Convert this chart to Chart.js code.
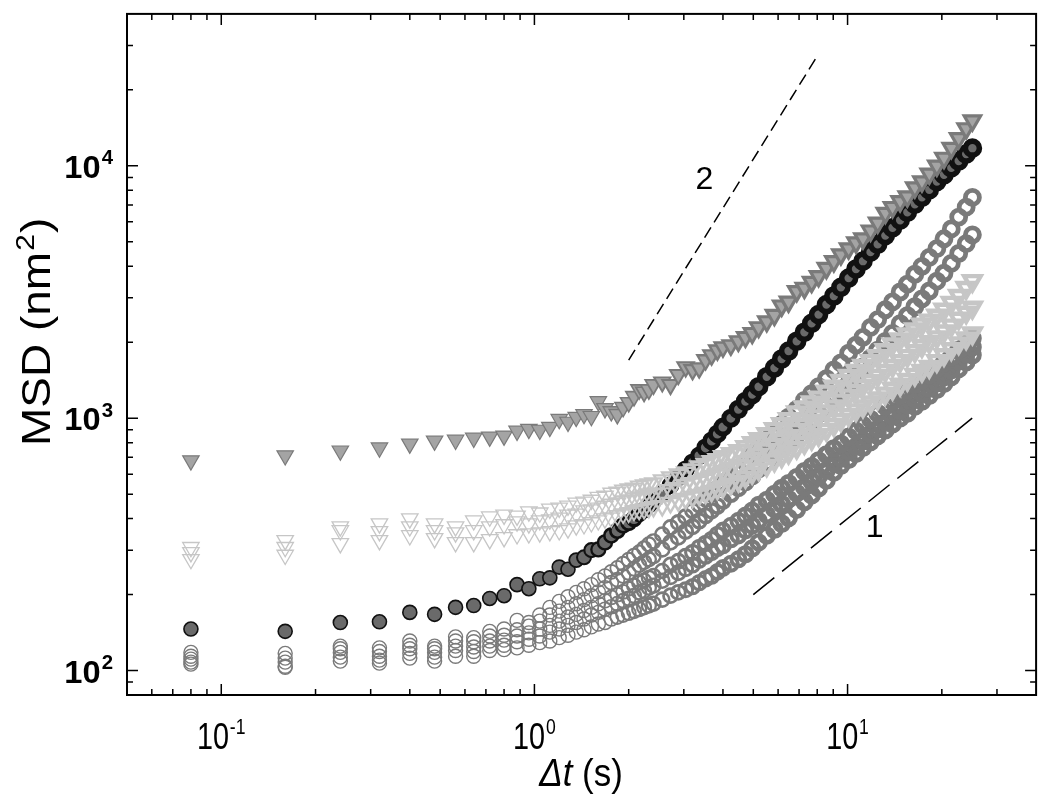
<!DOCTYPE html>
<html>
<head>
<meta charset="utf-8">
<script src="https://cdn.jsdelivr.net/npm/chart.js@4.4.0/dist/chart.umd.min.js"></script>
<style>
html, body { margin: 0; padding: 0; background: #fff; }
#wrap { width: 1050px; height: 797px; }
</style>
</head>
<body>
<div id="wrap"><canvas id="msdChart" width="1050" height="797"></canvas></div>
<script>
// time lags (s)
const LAGS = [0.08, 0.16, 0.24, 0.32, 0.40, 0.48, 0.56, 0.64, 0.72, 0.80,
    0.88, 0.96, 1.04, 1.12, 1.20, 1.28, 1.36, 1.44, 1.52, 1.60,
    1.68, 1.76, 1.84, 1.92, 2.00, 2.08, 2.16, 2.24, 2.32, 2.40,
    2.56, 2.72, 2.88, 3.04, 3.20, 3.36, 3.52, 3.68, 3.84, 4.00,
    4.24, 4.48, 4.72, 4.96, 5.20, 5.52, 5.84, 6.16, 6.48, 6.88,
    7.28, 7.68, 8.08, 8.56, 9.04, 9.52, 10.08, 10.64, 11.2, 11.84,
    12.48, 13.2, 13.92, 14.72, 15.52, 16.4, 17.28, 18.24, 19.28, 20.32,
    21.44, 22.64, 23.92, 25.04];

// MSD (nm^2), one array per trajectory
const TRI_GRAY = [679, 711, 743, 764, 791, 813, 820, 835, 843, 851,
    890, 905, 898, 922, 991, 966, 1010, 1036, 1018, 1165,
    1094, 1063, 1036, 1105, 1155, 1220, 1298, 1270, 1298, 1358,
    1390, 1358, 1486, 1595, 1554, 1580, 1701, 1778, 1860, 1912,
    1946, 2018, 2093, 2170, 2290, 2415, 2560, 2790, 2890, 3180,
    3280, 3460, 3650, 3930, 4180, 4450, 4700, 4960, 5150, 5530,
    5940, 6500, 6853, 7230, 7550, 8200, 8660, 9300, 10000, 10740,
    11750, 12850, 14060, 15100];

const CIRC_DARK = [146, 143, 155, 156, 170, 167, 178, 181, 193, 198,
    219, 211, 231, 233, 257, 252, 274, 281, 300, 302,
    322, 343, 358, 376, 385, 400, 418, 433, 453, 470,
    505, 542, 583, 626, 667, 710, 764, 813, 866, 922,
    1000, 1084, 1165, 1241, 1333, 1460, 1580, 1716, 1845, 2018,
    2190, 2375, 2573, 2820, 3050, 3300, 3590, 3900, 4190, 4550,
    4890, 5290, 5680, 6090, 6550, 7040, 7500, 8040, 8660, 9220,
    9815, 10450, 11130, 11750];

const TRI_LIGHT_1 = [308, 328, 372, 382, 400, 382, 372, 393, 407, 414,
    410, 426, 422, 437, 441, 449, 462, 466, 474, 487,
    492, 505, 510, 519, 524, 528, 538, 543, 548, 553,
    568, 583, 599, 610, 627, 644, 656, 674, 686, 705,
    724, 744, 771, 799, 829, 867, 907, 948, 992, 1057,
    1105, 1156, 1209, 1277, 1335, 1409, 1474, 1542, 1613, 1687,
    1765, 1863, 1966, 2057, 2152, 2251, 2354, 2441, 2553, 2695,
    2871, 3057, 3286, 3499];

const TRI_LIGHT_2 = [294, 308, 359, 356, 372, 359, 352, 359, 372, 379,
    389, 382, 393, 396, 403, 414, 418, 430, 434, 441,
    449, 457, 462, 470, 474, 483, 487, 492, 496, 501,
    505, 519, 528, 543, 553, 563, 573, 589, 599, 616,
    633, 650, 674, 692, 718, 751, 785, 821, 851, 899,
    940, 975, 1019, 1066, 1115, 1177, 1231, 1288, 1347, 1409,
    1474, 1542, 1613, 1687, 1765, 1846, 1931, 2003, 2095, 2211,
    2333, 2485, 2624, 2744];

const TRI_LIGHT_3 = [276, 287, 319, 328, 343, 334, 322, 322, 331, 337,
    346, 349, 352, 356, 359, 365, 375, 379, 386, 393,
    400, 403, 411, 418, 422, 430, 434, 437, 441, 445,
    449, 462, 470, 479, 487, 496, 505, 514, 524, 533,
    548, 563, 583, 605, 627, 650, 680, 705, 731, 764,
    799, 829, 859, 899, 940, 983, 1029, 1076, 1115, 1156,
    1199, 1254, 1311, 1360, 1422, 1488, 1542, 1598, 1687, 1781,
    1880, 1984, 2075, 2171];

const CIRC_OPEN_1 = [118, 117, 125, 123, 131, 125, 136, 135, 143, 146,
    158, 155, 166, 178, 188, 196, 204, 211, 219, 229,
    237, 246, 255, 265, 275, 285, 294, 305, 316, 325,
    346, 369, 386, 407, 430, 453, 479, 501, 528, 558,
    595, 627, 667, 711, 764, 821, 882, 948, 1009, 1084,
    1176, 1252, 1334, 1433, 1554, 1655, 1810, 1946, 2091, 2288,
    2458, 2690, 2890, 3162, 3398, 3718, 3996, 4334, 4698, 5140,
    5623, 6266, 6855, 7499];

const CIRC_OPEN_2 = [114, 112, 122, 119, 126, 122, 131, 130, 137, 138,
    145, 150, 157, 166, 172, 178, 184, 191, 198, 205,
    213, 223, 229, 237, 244, 253, 262, 269, 276, 284,
    302, 322, 337, 356, 372, 392, 411, 430, 449, 470,
    500, 528, 557, 588, 627, 667, 711, 757, 799, 859,
    914, 973, 1037, 1114, 1187, 1264, 1370, 1472, 1596, 1731,
    1861, 2017, 2168, 2371, 2548, 2764, 2970, 3191, 3491, 3752,
    4106, 4493, 4914, 5330];

const CIRC_OPEN_3 = [111, 108, 118, 114, 122, 118, 125, 124, 131, 132,
    137, 141, 146, 151, 157, 163, 167, 173, 178, 184,
    189, 195, 200, 205, 211, 217, 223, 227, 233, 237,
    248, 262, 271, 284, 294, 308, 319, 331, 346, 359,
    375, 392, 411, 430, 453, 474, 500, 528, 552, 583,
    615, 644, 679, 717, 757, 791, 843, 890, 939, 991,
    1046, 1114, 1166, 1230, 1287, 1358, 1420, 1486, 1568, 1655,
    1747, 1861, 1963, 2072];

const CIRC_OPEN_4 = [108, 104, 113, 110, 117, 113, 120, 119, 125, 126,
    130, 133, 137, 142, 146, 151, 155, 160, 166, 170,
    175, 179, 184, 189, 193, 198, 204, 207, 213, 217,
    227, 235, 244, 253, 262, 274, 284, 294, 305, 313,
    331, 343, 359, 375, 392, 414, 437, 457, 478, 505,
    533, 562, 588, 621, 662, 692, 737, 771, 813, 867,
    907, 965, 1018, 1075, 1124, 1187, 1252, 1310, 1382, 1459,
    1554, 1685, 1795, 1911];

const CIRC_OPEN_5 = [106, 103, 109, 107, 112, 109, 114, 114, 120, 121,
    123, 126, 129, 131, 135, 138, 142, 145, 149, 153,
    155, 160, 163, 166, 169, 172, 175, 178, 181, 184,
    191, 198, 204, 209, 215, 223, 231, 237, 246, 255,
    265, 276, 289, 305, 322, 343, 362, 382, 403, 434,
    466, 496, 528, 567, 610, 649, 686, 724, 764, 806,
    851, 898, 948, 1000, 1046, 1114, 1166, 1230, 1298, 1370,
    1459, 1568, 1670, 1778];

// guide lines for slope 2 and slope 1
const SLOPE2_T = [2, 8];
const SLOPE2_MSD = [1700, 27200];
const SLOPE1_T = [5, 25];
const SLOPE1_MSD = [200, 1000];
const SLOPE_LABELS = ['2', '1'];
const SLOPE_LABEL_T = [3.49, 12.2];
const SLOPE_LABEL_MSD = [8800, 368];

// axis ticks
const X_MAJOR = [0.1, 1, 10];
const X_MAJOR_EXP = ['-1', '0', '1'];
const X_MINOR = [0.06, 0.07, 0.08, 0.09, 0.2, 0.3, 0.4, 0.5, 0.6, 0.7, 0.8, 0.9,
    2, 3, 4, 5, 6, 7, 8, 9, 20, 30];
const Y_MAJOR = [100, 1000, 10000];
const Y_MAJOR_EXP = ['2', '3', '4'];
const Y_MINOR = [90, 200, 300, 400, 500, 600, 700, 800, 900,
    2000, 3000, 4000, 5000, 6000, 7000, 8000, 9000, 20000, 30000];

const FONT = '"Liberation Sans", Arial, Helvetica, sans-serif';

const pts = (ys) => ys.map((v, i) => ({ x: LAGS[i], y: v }));
const pair = (xs, ys) => xs.map((v, i) => ({ x: v, y: ys[i] }));

// markers pile up at long lags, so the outlines get heavier there
function heavier(lo, hi, from) {
    return (c) => {
        const t = c.raw ? c.raw.x : 1;
        const k = Math.min(1, Math.max(0, (Math.log10(t) - from) / 0.6));
        return lo + (hi - lo) * k;
    };
}

function tri(data, fill, border, lo, hi) {
    return {
        data: pts(data),
        pointStyle: 'triangle',
        rotation: 180,
        pointRadius: 9.5,
        backgroundColor: fill,
        borderColor: border,
        pointBorderWidth: heavier(lo, hi, 0.2),
    };
}

function circ(data, fill, border, lo, hi, from) {
    return {
        data: pts(data),
        pointStyle: 'circle',
        pointRadius: 7,
        backgroundColor: fill,
        borderColor: border,
        pointBorderWidth: heavier(lo, hi, from),
    };
}

function guide(xs, ys, dash) {
    return {
        data: pair(xs, ys),
        showLine: true,
        pointRadius: 0,
        borderColor: '#000',
        borderWidth: 1.5,
        borderDash: dash,
    };
}

function drawPow(ctx, exp, x, y, size, align, bold, sx) {
    const w = bold ? 'bold ' : '';
    const baseFont = `${w}${size}px ${FONT}`;
    const expFont = `${w}${Math.round(size * 0.62)}px ${FONT}`;
    ctx.font = baseFont;
    const wb = ctx.measureText('10').width;
    ctx.font = expFont;
    const we = ctx.measureText(exp).width;
    const total = (wb + we + 1) * sx;
    const x0 = align === 'center' ? x - total / 2 : x - total;
    ctx.save();
    ctx.translate(x0, y);
    ctx.scale(sx, 1);
    ctx.textAlign = 'left';
    ctx.textBaseline = 'alphabetic';
    ctx.font = baseFont;
    ctx.fillText('10', 0, 0);
    ctx.font = expFont;
    ctx.fillText(exp, wb + 1, -size * 0.42);
    ctx.restore();
}

const frameAndLabels = {
    id: 'frameAndLabels',
    beforeDraw(chart) {
        const c = chart.ctx;
        c.save();
        c.fillStyle = '#fff';
        c.fillRect(0, 0, chart.width, chart.height);
        c.restore();
    },
    afterDraw(chart) {
        const { ctx, chartArea: a, scales: { x, y } } = chart;
        ctx.save();
        ctx.strokeStyle = '#000';
        ctx.fillStyle = '#000';
        ctx.lineWidth = 1.5;

        const xTick = (v, len) => {
            const px = x.getPixelForValue(v);
            ctx.moveTo(px, a.bottom);
            ctx.lineTo(px, a.bottom - len);
            ctx.moveTo(px, a.top);
            ctx.lineTo(px, a.top + len);
        };
        const yTick = (v, len) => {
            const py = y.getPixelForValue(v);
            ctx.moveTo(a.left, py);
            ctx.lineTo(a.left + len, py);
            ctx.moveTo(a.right, py);
            ctx.lineTo(a.right - len, py);
        };
        ctx.beginPath();
        X_MAJOR.forEach((v) => xTick(v, 11));
        X_MINOR.forEach((v) => xTick(v, 6));
        Y_MAJOR.forEach((v) => yTick(v, 11));
        Y_MINOR.forEach((v) => yTick(v, 6));
        ctx.stroke();

        ctx.lineWidth = 2;
        ctx.strokeRect(a.left, a.top, a.right - a.left, a.bottom - a.top);

        // tick labels
        X_MAJOR.forEach((v, i) => {
            drawPow(ctx, X_MAJOR_EXP[i], x.getPixelForValue(v), 749, 36, 'center', false, 0.8);
        });
        Y_MAJOR.forEach((v, i) => {
            drawPow(ctx, Y_MAJOR_EXP[i], 113, y.getPixelForValue(v) + 12, 32, 'right', true, 1.02);
        });

        // slope labels
        ctx.font = `32px ${FONT}`;
        ctx.textAlign = 'center';
        ctx.textBaseline = 'middle';
        SLOPE_LABELS.forEach((s, i) => {
            ctx.fillText(s, x.getPixelForValue(SLOPE_LABEL_T[i]), y.getPixelForValue(SLOPE_LABEL_MSD[i]));
        });

        // x title: Δt (s)
        ctx.save();
        ctx.translate(581, 786);
        ctx.scale(0.92, 1);
        ctx.textBaseline = 'alphabetic';
        ctx.textAlign = 'left';
        const it = `italic 38px ${FONT}`;
        const rg = `38px ${FONT}`;
        ctx.font = it;
        const w1 = ctx.measureText('\u0394t').width;
        ctx.font = rg;
        const w2 = ctx.measureText(' (s)').width;
        const sx0 = -(w1 + w2) / 2;
        ctx.font = it;
        ctx.fillText('\u0394t', sx0, 0);
        ctx.font = rg;
        ctx.fillText(' (s)', sx0 + w1, 0);
        ctx.restore();

        // y title: MSD (nm²)
        ctx.save();
        ctx.translate(50, 333);
        ctx.rotate(-Math.PI / 2);
        ctx.scale(1.15, 1);
        ctx.textBaseline = 'alphabetic';
        ctx.textAlign = 'left';
        const big = `40px ${FONT}`;
        const sup = `26px ${FONT}`;
        ctx.font = big;
        const a1 = ctx.measureText('MSD (nm').width;
        const a3 = ctx.measureText(')').width;
        ctx.font = sup;
        const a2 = ctx.measureText('2').width;
        const start = -(a1 + a2 + a3) / 2;
        ctx.font = big;
        ctx.fillText('MSD (nm', start, 0);
        ctx.font = sup;
        ctx.fillText('2', start + a1 + 1, -16);
        ctx.font = big;
        ctx.fillText(')', start + a1 + a2 + 2, 0);
        ctx.restore();

        ctx.restore();
    },
};

new Chart(document.getElementById('msdChart'), {
    type: 'scatter',
    data: {
        datasets: [
            guide(SLOPE2_T, SLOPE2_MSD, [12, 6]),
            guide(SLOPE1_T, SLOPE1_MSD, [27, 10]),
            tri(TRI_GRAY, '#a4a4a4', '#7a7a7a', 1.2, 3.2),
            tri(TRI_LIGHT_1, 'rgba(255,255,255,0)', '#c6c6c6', 1.3, 4.4),
            tri(TRI_LIGHT_2, 'rgba(255,255,255,0)', '#c6c6c6', 1.3, 4.4),
            tri(TRI_LIGHT_3, 'rgba(255,255,255,0)', '#c6c6c6', 1.3, 4.4),
            circ(CIRC_DARK, '#6a6a6a', '#111111', 1.6, 5.6, 0.1),
            circ(CIRC_OPEN_1, 'rgba(255,255,255,0)', '#7a7a7a', 1.4, 4.8, 0.2),
            circ(CIRC_OPEN_2, 'rgba(255,255,255,0)', '#7a7a7a', 1.4, 4.8, 0.2),
            circ(CIRC_OPEN_3, 'rgba(255,255,255,0)', '#7a7a7a', 1.4, 4.8, 0.2),
            circ(CIRC_OPEN_4, 'rgba(255,255,255,0)', '#7a7a7a', 1.4, 4.8, 0.2),
            circ(CIRC_OPEN_5, 'rgba(255,255,255,0)', '#7a7a7a', 1.4, 4.8, 0.2),
        ],
    },
    options: {
        responsive: false,
        animation: false,
        layout: { padding: { left: 127, right: 4, top: 5, bottom: 102 } },
        plugins: {
            legend: { display: false },
            tooltip: { enabled: false },
        },
        scales: {
            x: { type: 'logarithmic', min: 0.05, max: 40, display: false },
            y: { type: 'logarithmic', min: 80, max: 40000, display: false },
        },
    },
    plugins: [frameAndLabels],
});
</script>
</body>
</html>
